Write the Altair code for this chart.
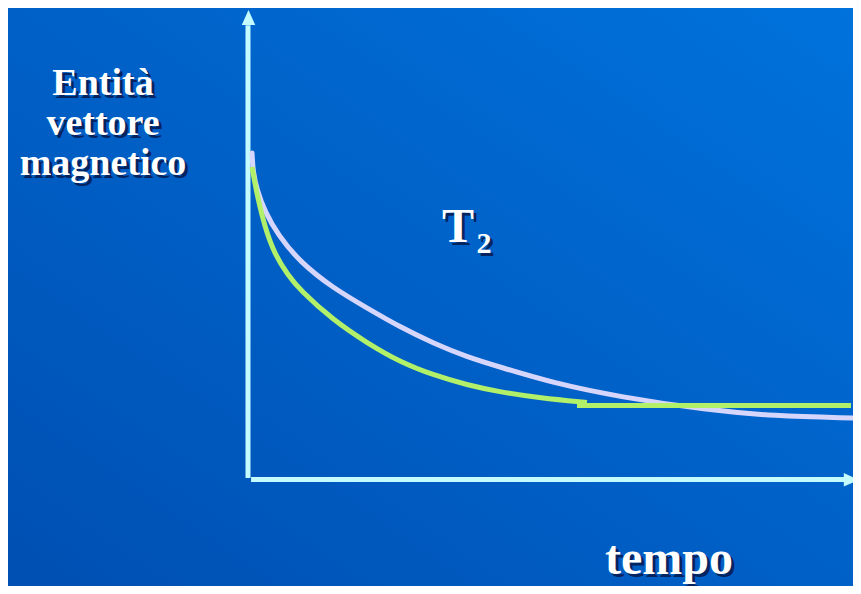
import altair as alt
import pandas as pd

# ---- data (time vs. magnetization magnitude) ----
lav_t = [0.066, 0.082, 0.148, 0.279, 0.492, 0.852, 1.393, 1.951, 2.492, 3.033, 3.590, 4.131, 5.0, 6.098, 7.525, 8.607, 9.918]
lav_m = [7.02, 6.61, 6.22, 5.745, 5.248, 4.665, 4.104, 3.672, 3.261, 2.916, 2.613, 2.397, 2.052, 1.749, 1.469, 1.339, 1.296]
green_t = [0.066, 0.148, 0.279, 0.443, 0.656, 0.852, 1.393, 1.951, 2.492, 3.033, 3.590, 4.131, 4.787, 5.557]
green_m = [6.717, 6.112, 5.40, 4.816, 4.384, 4.06, 3.413, 2.916, 2.505, 2.225, 2.009, 1.857, 1.728, 1.631]
flat_t = [5.393, 9.885]
flat_m = [1.566, 1.566]

yaxis_t = [0.0, 0.0]
yaxis_m = [0.0, 9.78]
xaxis_t = [0.05, 9.80]
xaxis_m = [-0.035, -0.035]
arrow_t = [0.008, 9.89]
arrow_m = [9.946, -0.04]
arrow_shape = ["M0,-1L0.9,1L-0.9,1Z", "M1,0L-1,-0.9L-1,0.9Z"]

ylabel_lines = ["Entità", "vettore", "magnetico"]
t2_main = "T"
t2_sub = "2"
xlabel = "tempo"

W, H = 845, 578
xs = alt.Scale(domain=[0, 10], range=[240, 850])
ys = alt.Scale(domain=[0, 10], range=[470, 7])

def X():
    return alt.X("t:Q", scale=xs, axis=None)

def Y():
    return alt.Y("m:Q", scale=ys, axis=None)

bg_grad = alt.Gradient(
    gradient="linear",
    stops=[alt.GradientStop(offset=0, color="#004fb2"),
           alt.GradientStop(offset=1, color="#0072dc")],
    x1=0, y1=1, x2=1, y2=0,
)
background = alt.Chart(pd.DataFrame({"k": [0]})).mark_rect(color=bg_grad).encode(
    x=alt.value(0), x2=alt.value(W), y=alt.value(0), y2=alt.value(H)
)

AXC = "#c4fbff"
axes_df = pd.DataFrame({
    "t": yaxis_t + xaxis_t,
    "m": yaxis_m + xaxis_m,
    "s": ["y", "y", "x", "x"],
})
axes = alt.Chart(axes_df).mark_line(color=AXC, strokeWidth=5, strokeCap="butt").encode(
    x=X(), y=Y(), detail="s:N"
)
arrows = alt.layer(*[
    alt.Chart(pd.DataFrame({"t": [arrow_t[i]], "m": [arrow_m[i]]})).mark_point(
        shape=arrow_shape[i], size=225, filled=True, color=AXC, opacity=1, strokeWidth=0
    ).encode(x=X(), y=Y())
    for i in range(2)
])

lav = alt.Chart(pd.DataFrame({"t": lav_t, "m": lav_m})).mark_line(
    color="#d6d6fc", strokeWidth=5, interpolate="basis", strokeCap="round"
).encode(x=X(), y=Y())

green_df = pd.DataFrame({
    "t": green_t + flat_t,
    "m": green_m + flat_m,
    "s": ["c"] * len(green_t) + ["f"] * len(flat_t),
})
green = alt.Chart(green_df).mark_line(
    color="#b2f06a", strokeWidth=5, interpolate="basis", strokeCap="butt"
).encode(x=X(), y=Y(), detail="s:N")

FONT = "Liberation Serif"
SH = "#071a4e"

def label(text, x, y, size, lh=None):
    kw = dict(text=text, font=FONT, fontWeight="bold", fontSize=size,
              align="center", baseline="alphabetic")
    if lh:
        kw["lineHeight"] = lh
    d = pd.DataFrame({"k": [0]})
    shadow = alt.Chart(d).mark_text(color=SH, opacity=0.85, **kw).encode(
        x=alt.value(x + 3), y=alt.value(y + 3))
    main = alt.Chart(d).mark_text(color="#ffffff", **kw).encode(
        x=alt.value(x), y=alt.value(y))
    return shadow + main

texts = (
    label(ylabel_lines, 95, 87, 38, 40)
    + label(t2_main, 450, 234, 48)
    + label(t2_sub, 476, 245, 30)
    + label(xlabel, 661, 566, 48)
)

chart = alt.layer(background, axes, arrows, lav, green, texts).properties(
    width=W, height=H, autosize="none", padding=0, background="#005fc8"
).configure_view(stroke=None)

chart.save("out.html", embed_options={"renderer": "svg", "actions": False})
